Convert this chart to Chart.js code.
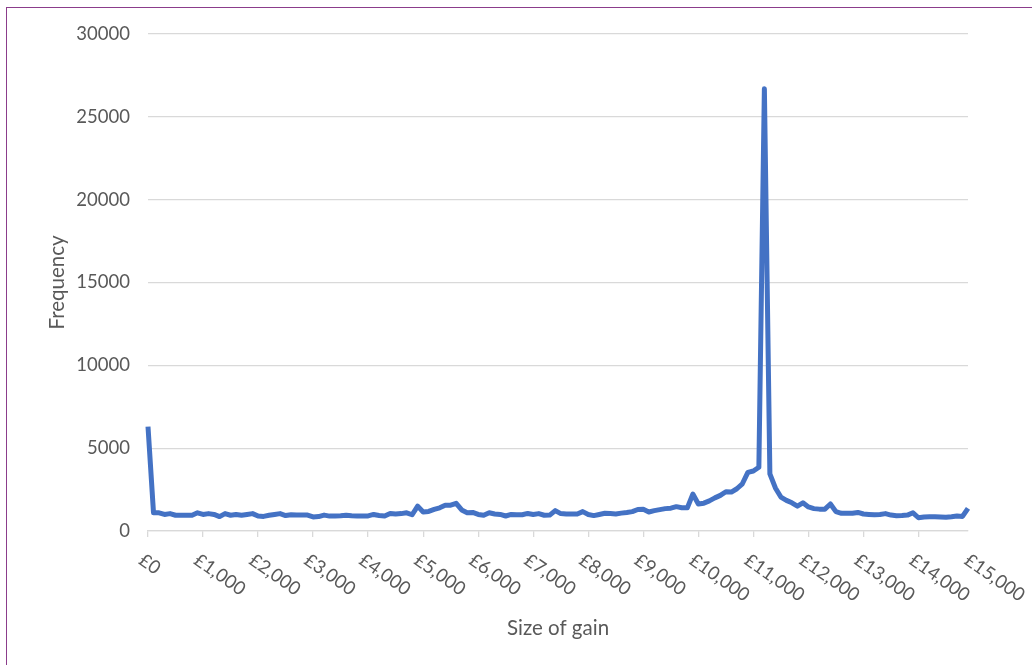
<!DOCTYPE html>
<html>
<head>
<meta charset="utf-8">
<script src="https://cdn.jsdelivr.net/npm/chart.js@4.4.1/dist/chart.umd.min.js"></script>
<style>
  html, body { margin: 0; padding: 0; background: #fff; }
  #wrap { position: relative; width: 1032px; height: 665px; overflow: hidden; }
  #frame { position: absolute; left: 6px; top: 7px; right: -4px; bottom: -4px;
           border-left: 1px solid #8b3d8b; border-top: 1px solid #8b3d8b; }
  canvas { position: absolute; left: 0; top: 0; }
</style>
</head>
<body>
<div id="wrap">
  <div id="frame"></div>
  <canvas id="gain_chart" width="1032" height="665"></canvas>
</div>
<script>
// size of gain, in steps of £100 (categories)
const gains = [];
for (let g = 0; g <= 14900; g += 100) gains.push(g);

// frequency per £100 band
const frequency = [
  6300, 1100, 1100, 1000, 1050, 950, 950, 950, 950, 1100,
  1000, 1050, 1000, 870, 1050, 950, 1000, 950, 1000, 1050,
  900, 880, 950, 1000, 1050, 930, 980, 960, 960, 960,
  850, 870, 960, 900, 900, 920, 950, 920, 910, 900,
  910, 1000, 940, 910, 1060, 1020, 1050, 1100, 980, 1500,
  1150, 1180, 1300, 1400, 1550, 1560, 1670, 1270, 1100, 1120,
  1000, 950, 1100, 1030, 1000, 905, 1000, 980, 980, 1060,
  1000, 1050, 950, 960, 1230, 1050, 1020, 1020, 1030, 1170,
  1000, 930, 1000, 1070, 1050, 1030, 1080, 1120, 1170, 1300,
  1310, 1150, 1230, 1290, 1350, 1380, 1470, 1400, 1400, 2230,
  1630, 1680, 1820, 2000, 2150, 2370, 2350, 2550, 2850, 3540,
  3620, 3850, 26700, 3450, 2600, 2050, 1850, 1700, 1500, 1700,
  1450, 1350, 1320, 1320, 1630, 1170, 1070, 1070, 1070, 1120,
  1025, 1000, 980, 1000, 1050, 960, 925, 930, 960, 1100,
  800, 850, 860, 865, 850, 830, 860, 900, 880, 1370
];

const xTickValues = [0, 1000, 2000, 3000, 4000, 5000, 6000, 7000,
  8000, 9000, 10000, 11000, 12000, 13000, 14000, 15000];
const xTickLabels = ["£0", "£1,000", "£2,000", "£3,000", "£4,000", "£5,000",
  "£6,000", "£7,000", "£8,000", "£9,000", "£10,000", "£11,000", "£12,000",
  "£13,000", "£14,000", "£15,000"];

const TEXT = "#595959";
const GRID = "#d9d9d9";

// x labels run down to the right, so they are drawn here
const axisText = {
  id: "axisText",
  afterDraw(chart) {
    const ctx = chart.ctx;
    const xs = chart.scales.x;
    const area = chart.chartArea;
    ctx.save();
    ctx.fillStyle = TEXT;
    ctx.font = "18.5px Lato";
    ctx.textAlign = "left";
    ctx.textBaseline = "middle";
    xTickValues.forEach(function (v, i) {
      const px = xs.getPixelForValue(v);
      ctx.save();
      ctx.translate(px - 7, area.bottom + 27);
      ctx.rotate((35 * Math.PI) / 180);
      ctx.fillText(xTickLabels[i], 0, 0);
      ctx.restore();
    });

    ctx.font = "20.5px Lato";
    ctx.textAlign = "center";
    ctx.fillText("Size of gain", (area.left + area.right) / 2, 628);
    ctx.translate(57, (area.top + area.bottom) / 2);
    ctx.rotate(-Math.PI / 2);
    ctx.fillText("Frequency", 0, 0);
    ctx.restore();
  },
};

function init() {
  const ctx = document.getElementById("gain_chart");
  const points = gains.map(function (g, i) {
    return { x: g, y: frequency[i] };
  });

  new Chart(ctx, {
    type: "line",
    data: {
      datasets: [{
        data: points,
        borderColor: "#4472c4",
        borderWidth: 5,
        pointRadius: 0,
        tension: 0,
        clip: 8,
        borderJoinStyle: "round",
      }],
    },
    options: {
      responsive: false,
      animation: false,
      layout: { padding: { left: 0, right: 64, top: 34, bottom: 0 } },
      plugins: { legend: { display: false }, tooltip: { enabled: false } },
      scales: {
        x: {
          type: "linear",
          min: 0,
          max: 14900,
          afterBuildTicks: function (s) {
            s.ticks = xTickValues
              .filter(function (v) { return v <= 14900; })
              .map(function (v) { return { value: v }; });
          },
          afterFit: function (s) { s.height = 134; },
          ticks: { display: false },
          grid: { drawOnChartArea: false, drawTicks: true, tickLength: 6, color: GRID, lineWidth: 1.3 },
          border: { display: true, color: GRID, width: 1.3 },
        },
        y: {
          min: 0,
          max: 30000,
          afterFit: function (s) { s.width = 148; },
          ticks: {
            stepSize: 5000,
            color: TEXT,
            padding: 18,
            font: { family: "Lato", size: 18.5 },
            callback: function (v) { return String(v); },
          },
          grid: { color: GRID, lineWidth: 1.3, drawTicks: false },
          border: { display: false },
        },
      },
    },
    plugins: [axisText],
  });
}

window.onload = init;
</script>
</body>
</html>
